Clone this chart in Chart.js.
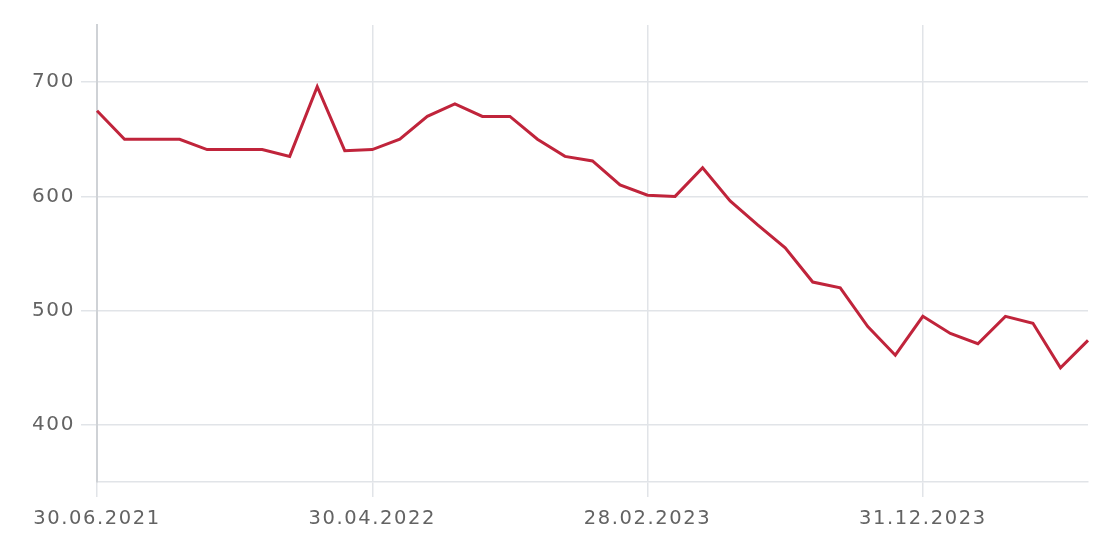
<!DOCTYPE html>
<html><head><meta charset="utf-8">
<script src="https://cdn.jsdelivr.net/npm/chart.js@4"></script>
<style>html,body{margin:0;padding:0;background:#fff}#wrap{width:1106px;height:556px}</style>
</head><body><div id="wrap"><canvas id="c" width="1106" height="556"></canvas></div>
<script>
const dateLabels = ["30.06.2021","31.07.2021","31.08.2021","30.09.2021","31.10.2021","30.11.2021","31.12.2021","31.01.2022","28.02.2022","31.03.2022","30.04.2022","31.05.2022","30.06.2022","31.07.2022","31.08.2022","30.09.2022","31.10.2022","30.11.2022","31.12.2022","31.01.2023","28.02.2023","31.03.2023","30.04.2023","31.05.2023","30.06.2023","31.07.2023","31.08.2023","30.09.2023","31.10.2023","30.11.2023","31.12.2023","31.01.2024","29.02.2024","31.03.2024","30.04.2024","31.05.2024","30.06.2024"];
const values = [675,650,650,650,641,641,641,635,696,640,641,650,670,681,670,670,650,635,631,610,601,600,625,596,575,555,525,520,486,461,495,480,471,495,489,450,474];
const yTicks = [400,500,600,700];
const labelEvery = 10;

const spacing = {
  id: 'spacing',
  beforeLayout(chart) { chart.ctx.letterSpacing = '1.6px'; },
  beforeDraw(chart) { chart.ctx.letterSpacing = '1.6px'; }
};

new Chart(document.getElementById('c'), {
  type: 'line',
  data: { labels: dateLabels, datasets: [{ data: values, borderColor: '#c0243b', borderWidth: 3, pointRadius: 0, tension: 0, fill: false }] },
  plugins: [spacing],
  options: {
    responsive: false, animation: false,
    layout: { padding: { top: 25, right: 18, left: 0, bottom: 0 } },
    plugins: { legend: { display: false }, tooltip: { enabled: false } },
    scales: {
      x: {
        offset: false,
        grid: { color: c => (c.index % labelEvery === 0 ? '#e1e4e8' : 'transparent'), lineWidth: 1.5, tickLength: 15 },
        border: { color: '#e1e4e8', width: 1.5 },
        ticks: { autoSkip: false, maxRotation: 0, color: '#636363', font: { family: 'DejaVu Sans', size: 19.5 }, padding: 10,
          callback: function(v, i) { return i % labelEvery === 0 ? this.getLabelForValue(v) : ''; } },
        afterFit: s => { s.height = 74; }
      },
      y: {
        min: 350, max: 750,
        afterBuildTicks: s => { s.ticks = yTicks.map(v => ({ value: v })); },
        grid: { color: '#e1e4e8', lineWidth: 1.5, tickLength: 16 },
        border: { color: '#cfd2d6', width: 2 },
        ticks: { color: '#636363', font: { family: 'DejaVu Sans', size: 20 }, padding: 6 },
        afterFit: s => { s.width = 97; }
      }
    }
  }
});
</script></body></html>
